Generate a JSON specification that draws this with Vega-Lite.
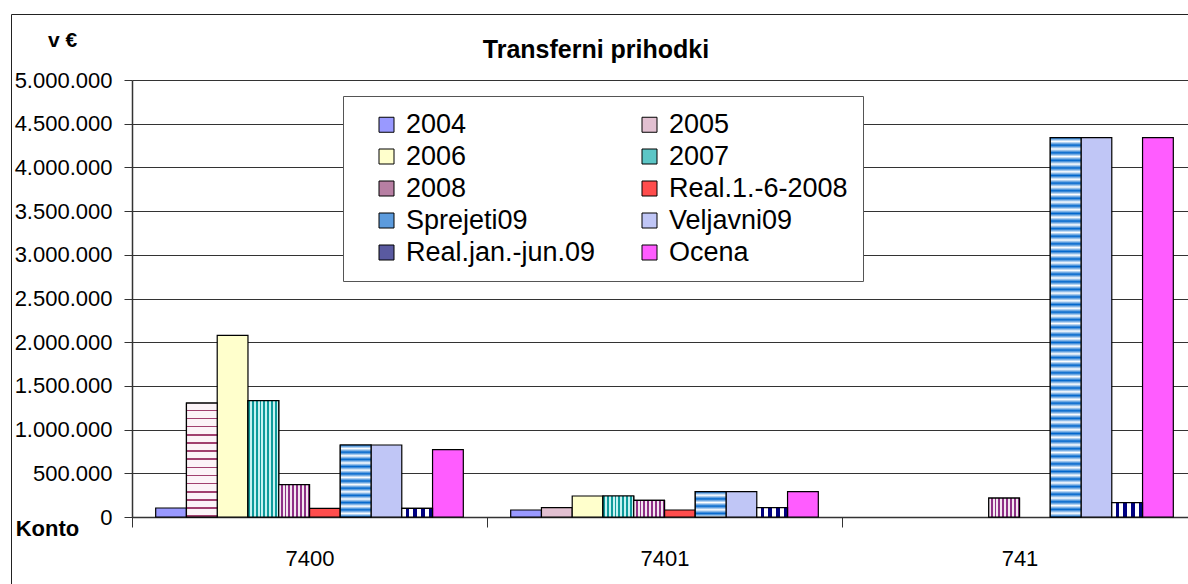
{
  "$schema": "https://vega.github.io/schema/vega-lite/v6.json",
  "width": 1056,
  "height": 437,
  "autosize": {"type": "none"},
  "padding": {"left": 132, "top": 80, "right": 0, "bottom": 67},
  "background": "white",
  "title": {
    "text": "Transferni prihodki",
    "anchor": "middle",
    "dx": -64,
    "dy": 49,
    "font": "Liberation Sans, Arial, sans-serif",
    "fontSize": 25,
    "fontWeight": "bold",
    "color": "black",
    "offset": 0
  },
  "data": {
    "values": [
      {"k": "7400", "s": "2004", "v": 103000},
      {"k": "7400", "s": "2005", "v": 1304000},
      {"k": "7400", "s": "2006", "v": 2079000},
      {"k": "7400", "s": "2007", "v": 1331000},
      {"k": "7400", "s": "2008", "v": 370000},
      {"k": "7400", "s": "Real.1.-6-2008", "v": 99000},
      {"k": "7400", "s": "Sprejeti09", "v": 824000},
      {"k": "7400", "s": "Veljavni09", "v": 824000},
      {"k": "7400", "s": "Real.jan.-jun.09", "v": 99000},
      {"k": "7400", "s": "Ocena", "v": 770000},
      {"k": "7401", "s": "2004", "v": 80000},
      {"k": "7401", "s": "2005", "v": 107000},
      {"k": "7401", "s": "2006", "v": 240000},
      {"k": "7401", "s": "2007", "v": 240000},
      {"k": "7401", "s": "2008", "v": 191000},
      {"k": "7401", "s": "Real.1.-6-2008", "v": 80000},
      {"k": "7401", "s": "Sprejeti09", "v": 290000},
      {"k": "7401", "s": "Veljavni09", "v": 290000},
      {"k": "7401", "s": "Real.jan.-jun.09", "v": 107000},
      {"k": "7401", "s": "Ocena", "v": 290000},
      {"k": "741", "s": "2008", "v": 217000},
      {"k": "741", "s": "Sprejeti09", "v": 4341000},
      {"k": "741", "s": "Veljavni09", "v": 4341000},
      {"k": "741", "s": "Real.jan.-jun.09", "v": 164000},
      {"k": "741", "s": "Ocena", "v": 4341000}
    ]
  },
  "layer": [
    {
      "encoding": {
        "x": {
          "field": "k",
          "type": "nominal",
          "scale": {"domain": ["7400", "7401", "741"], "range": [0, 1065], "paddingInner": 0, "paddingOuter": 0},
          "axis": {
            "orient": "bottom",
            "title": "Konto",
            "titleFont": "Liberation Sans, Arial, sans-serif",
            "titleFontSize": 22,
            "titleFontWeight": "bold",
            "titleColor": "black",
            "titleX": -85,
            "titleY": 11,
            "titleAlign": "center",
            "titleBaseline": "middle",
            "labelAngle": 0,
            "labelFont": "Liberation Sans, Arial, sans-serif",
            "labelFontSize": 22,
            "labelColor": "black",
            "labelPadding": 21,
            "tickBand": "extent",
            "ticks": true,
            "tickSize": 10,
            "tickColor": "#333333",
            "domainColor": "#333333",
            "domainWidth": 1.5,
            "grid": false
          }
        },
        "xOffset": {
          "field": "s",
          "type": "nominal",
          "scale": {
            "domain": ["2004", "2005", "2006", "2007", "2008", "Real.1.-6-2008", "Sprejeti09", "Veljavni09", "Real.jan.-jun.09", "Ocena"],
            "paddingInner": 0,
            "paddingOuter": 0.77
          }
        },
        "y": {
          "field": "v",
          "type": "quantitative",
          "scale": {"domain": [0, 5000000], "nice": false},
          "axis": {
            "orient": "left",
            "title": "v €",
            "titleFont": "Liberation Sans, Arial, sans-serif",
            "titleFontSize": 21,
            "titleFontWeight": "bold",
            "titleColor": "black",
            "titleAngle": 0,
            "titleX": -70,
            "titleY": -40,
            "titleAlign": "center",
            "titleBaseline": "middle",
            "values": [0, 500000, 1000000, 1500000, 2000000, 2500000, 3000000, 3500000, 4000000, 4500000, 5000000],
            "format": ",.0f",
            "labelFont": "Liberation Sans, Arial, sans-serif",
            "labelFontSize": 22,
            "labelColor": "black",
            "labelPadding": 12,
            "tickSize": 8,
            "tickColor": "#333333",
            "domainColor": "#333333",
            "domainWidth": 1.5,
            "grid": true,
            "gridColor": "#333333",
            "gridWidth": 1
          }
        }
      },
      "layer": [
        {
          "mark": {"type": "bar", "stroke": "black", "strokeWidth": 1.2},
          "encoding": {
            "color": {
              "field": "s",
              "type": "nominal",
              "scale": {
                "domain": ["2004", "2005", "2006", "2007", "2008", "Real.1.-6-2008", "Sprejeti09", "Veljavni09", "Real.jan.-jun.09", "Ocena"],
                "range": ["#9999FF", "#E2C0D1", "#FFFFCC", "#5CC6C6", "#B77FA3", "#FF4D4D", "#5C9BDD", "#C0C6F6", "#5A5AA0", "#FF5CFF"]
              },
              "legend": {
                "title": null,
                "orient": "none",
                "direction": "horizontal",
                "legendX": 211,
                "legendY": 16,
                "columns": 2,
                "fillColor": "white",
                "strokeColor": "#555555",
                "padding": 15,
                "symbolType": "square",
                "symbolSize": 225,
                "symbolStrokeColor": "black",
                "symbolStrokeWidth": 1,
                "symbolOpacity": 1,
                "symbolOffset": 15,
                "labelOffset": 6,
                "labelFont": "Liberation Sans, Arial, sans-serif",
                "labelFontSize": 27,
                "labelColor": "black",
                "labelLimit": 400,
                "rowPadding": 4,
                "columnPadding": 25
              }
            }
          }
        },
        {
          "transform": [{"filter": {"and": [{"field": "s", "equal": "2005"}, {"field": "k", "equal": "7400"}]}}],
          "mark": {
            "type": "bar", "stroke": "black", "strokeWidth": 1.2,
            "fill": {"gradient": "linear", "x1": 0, "y1": 0, "x2": 0, "y2": 1, "stops": [
              {"offset": 0, "color": "#FBF3F7"}, {"offset": 0.0571, "color": "#FBF3F7"}, {"offset": 0.0571, "color": "#A0406E"}, {"offset": 0.0714, "color": "#A0406E"},
              {"offset": 0.0714, "color": "#FBF3F7"}, {"offset": 0.1286, "color": "#FBF3F7"}, {"offset": 0.1286, "color": "#A0406E"}, {"offset": 0.1429, "color": "#A0406E"},
              {"offset": 0.1429, "color": "#FBF3F7"}, {"offset": 0.2, "color": "#FBF3F7"}, {"offset": 0.2, "color": "#A0406E"}, {"offset": 0.2143, "color": "#A0406E"},
              {"offset": 0.2143, "color": "#FBF3F7"}, {"offset": 0.2714, "color": "#FBF3F7"}, {"offset": 0.2714, "color": "#A0406E"}, {"offset": 0.2857, "color": "#A0406E"},
              {"offset": 0.2857, "color": "#FBF3F7"}, {"offset": 0.3429, "color": "#FBF3F7"}, {"offset": 0.3429, "color": "#A0406E"}, {"offset": 0.3571, "color": "#A0406E"},
              {"offset": 0.3571, "color": "#FBF3F7"}, {"offset": 0.4143, "color": "#FBF3F7"}, {"offset": 0.4143, "color": "#A0406E"}, {"offset": 0.4286, "color": "#A0406E"},
              {"offset": 0.4286, "color": "#FBF3F7"}, {"offset": 0.4857, "color": "#FBF3F7"}, {"offset": 0.4857, "color": "#A0406E"}, {"offset": 0.5, "color": "#A0406E"},
              {"offset": 0.5, "color": "#FBF3F7"}, {"offset": 0.5571, "color": "#FBF3F7"}, {"offset": 0.5571, "color": "#A0406E"}, {"offset": 0.5714, "color": "#A0406E"},
              {"offset": 0.5714, "color": "#FBF3F7"}, {"offset": 0.6286, "color": "#FBF3F7"}, {"offset": 0.6286, "color": "#A0406E"}, {"offset": 0.6429, "color": "#A0406E"},
              {"offset": 0.6429, "color": "#FBF3F7"}, {"offset": 0.7, "color": "#FBF3F7"}, {"offset": 0.7, "color": "#A0406E"}, {"offset": 0.7143, "color": "#A0406E"},
              {"offset": 0.7143, "color": "#FBF3F7"}, {"offset": 0.7714, "color": "#FBF3F7"}, {"offset": 0.7714, "color": "#A0406E"}, {"offset": 0.7857, "color": "#A0406E"},
              {"offset": 0.7857, "color": "#FBF3F7"}, {"offset": 0.8429, "color": "#FBF3F7"}, {"offset": 0.8429, "color": "#A0406E"}, {"offset": 0.8571, "color": "#A0406E"},
              {"offset": 0.8571, "color": "#FBF3F7"}, {"offset": 0.9143, "color": "#FBF3F7"}, {"offset": 0.9143, "color": "#A0406E"}, {"offset": 0.9286, "color": "#A0406E"},
              {"offset": 0.9286, "color": "#FBF3F7"}, {"offset": 0.9857, "color": "#FBF3F7"}, {"offset": 0.9857, "color": "#A0406E"}, {"offset": 1, "color": "#A0406E"}
            ]}
          }
        },
        {
          "transform": [{"filter": {"field": "s", "equal": "2007"}}],
          "mark": {
            "type": "bar", "stroke": "black", "strokeWidth": 1.2,
            "fill": {"gradient": "linear", "x1": 0, "y1": 0, "x2": 1, "y2": 0, "stops": [
              {"offset": 0, "color": "#0E9A9A"}, {"offset": 0.0625, "color": "#0E9A9A"},
              {"offset": 0.0625, "color": "#C6F2F2"}, {"offset": 0.125, "color": "#C6F2F2"},
              {"offset": 0.125, "color": "#0E9A9A"}, {"offset": 0.1875, "color": "#0E9A9A"},
              {"offset": 0.1875, "color": "#C6F2F2"}, {"offset": 0.25, "color": "#C6F2F2"},
              {"offset": 0.25, "color": "#0E9A9A"}, {"offset": 0.3125, "color": "#0E9A9A"},
              {"offset": 0.3125, "color": "#C6F2F2"}, {"offset": 0.375, "color": "#C6F2F2"},
              {"offset": 0.375, "color": "#0E9A9A"}, {"offset": 0.4375, "color": "#0E9A9A"},
              {"offset": 0.4375, "color": "#C6F2F2"}, {"offset": 0.5, "color": "#C6F2F2"},
              {"offset": 0.5, "color": "#0E9A9A"}, {"offset": 0.5625, "color": "#0E9A9A"},
              {"offset": 0.5625, "color": "#C6F2F2"}, {"offset": 0.625, "color": "#C6F2F2"},
              {"offset": 0.625, "color": "#0E9A9A"}, {"offset": 0.6875, "color": "#0E9A9A"},
              {"offset": 0.6875, "color": "#C6F2F2"}, {"offset": 0.75, "color": "#C6F2F2"},
              {"offset": 0.75, "color": "#0E9A9A"}, {"offset": 0.8125, "color": "#0E9A9A"},
              {"offset": 0.8125, "color": "#C6F2F2"}, {"offset": 0.875, "color": "#C6F2F2"},
              {"offset": 0.875, "color": "#0E9A9A"}, {"offset": 0.9375, "color": "#0E9A9A"},
              {"offset": 0.9375, "color": "#C6F2F2"}, {"offset": 1, "color": "#C6F2F2"}
            ]}
          }
        },
        {
          "transform": [{"filter": {"field": "s", "equal": "2008"}}],
          "mark": {
            "type": "bar", "stroke": "black", "strokeWidth": 1.2,
            "fill": {"gradient": "linear", "x1": 0, "y1": 0, "x2": 1, "y2": 0, "stops": [
              {"offset": 0, "color": "#F3E6F0"}, {"offset": 0.0625, "color": "#F3E6F0"},
              {"offset": 0.0625, "color": "#8E2F86"}, {"offset": 0.125, "color": "#8E2F86"},
              {"offset": 0.125, "color": "#F3E6F0"}, {"offset": 0.1875, "color": "#F3E6F0"},
              {"offset": 0.1875, "color": "#8E2F86"}, {"offset": 0.25, "color": "#8E2F86"},
              {"offset": 0.25, "color": "#F3E6F0"}, {"offset": 0.3125, "color": "#F3E6F0"},
              {"offset": 0.3125, "color": "#8E2F86"}, {"offset": 0.375, "color": "#8E2F86"},
              {"offset": 0.375, "color": "#F3E6F0"}, {"offset": 0.4375, "color": "#F3E6F0"},
              {"offset": 0.4375, "color": "#8E2F86"}, {"offset": 0.5, "color": "#8E2F86"},
              {"offset": 0.5, "color": "#F3E6F0"}, {"offset": 0.5625, "color": "#F3E6F0"},
              {"offset": 0.5625, "color": "#8E2F86"}, {"offset": 0.625, "color": "#8E2F86"},
              {"offset": 0.625, "color": "#F3E6F0"}, {"offset": 0.6875, "color": "#F3E6F0"},
              {"offset": 0.6875, "color": "#8E2F86"}, {"offset": 0.75, "color": "#8E2F86"},
              {"offset": 0.75, "color": "#F3E6F0"}, {"offset": 0.8125, "color": "#F3E6F0"},
              {"offset": 0.8125, "color": "#8E2F86"}, {"offset": 0.875, "color": "#8E2F86"},
              {"offset": 0.875, "color": "#F3E6F0"}, {"offset": 0.9375, "color": "#F3E6F0"},
              {"offset": 0.9375, "color": "#8E2F86"}, {"offset": 1, "color": "#8E2F86"}
            ]}
          }
        },
        {
          "transform": [{"filter": {"field": "s", "equal": "Real.jan.-jun.09"}}],
          "mark": {
            "type": "bar", "stroke": "black", "strokeWidth": 1.2,
            "fill": {"gradient": "linear", "x1": 0, "y1": 0, "x2": 1, "y2": 0, "stops": [
              {"offset": 0, "color": "#FFFFFF"}, {"offset": 0.125, "color": "#FFFFFF"},
              {"offset": 0.125, "color": "#000080"}, {"offset": 0.25, "color": "#000080"},
              {"offset": 0.25, "color": "#FFFFFF"}, {"offset": 0.375, "color": "#FFFFFF"},
              {"offset": 0.375, "color": "#000080"}, {"offset": 0.5, "color": "#000080"},
              {"offset": 0.5, "color": "#FFFFFF"}, {"offset": 0.625, "color": "#FFFFFF"},
              {"offset": 0.625, "color": "#000080"}, {"offset": 0.75, "color": "#000080"},
              {"offset": 0.75, "color": "#FFFFFF"}, {"offset": 0.875, "color": "#FFFFFF"},
              {"offset": 0.875, "color": "#000080"}, {"offset": 1, "color": "#000080"}
            ]}
          }
        },
        {
          "transform": [{"filter": {"and": [{"field": "s", "equal": "Sprejeti09"}, {"field": "k", "equal": "7400"}]}}],
          "mark": {
            "type": "bar", "stroke": "black", "strokeWidth": 1.2,
            "fill": {"gradient": "linear", "x1": 0, "y1": 0, "x2": 0, "y2": 1, "stops": [
              {"offset": 0, "color": "#0066CC"}, {"offset": 0.05, "color": "#FFFFFF"},
              {"offset": 0.1, "color": "#0066CC"}, {"offset": 0.15, "color": "#FFFFFF"},
              {"offset": 0.2, "color": "#0066CC"}, {"offset": 0.25, "color": "#FFFFFF"},
              {"offset": 0.3, "color": "#0066CC"}, {"offset": 0.35, "color": "#FFFFFF"},
              {"offset": 0.4, "color": "#0066CC"}, {"offset": 0.45, "color": "#FFFFFF"},
              {"offset": 0.5, "color": "#0066CC"}, {"offset": 0.55, "color": "#FFFFFF"},
              {"offset": 0.6, "color": "#0066CC"}, {"offset": 0.65, "color": "#FFFFFF"},
              {"offset": 0.7, "color": "#0066CC"}, {"offset": 0.75, "color": "#FFFFFF"},
              {"offset": 0.8, "color": "#0066CC"}, {"offset": 0.85, "color": "#FFFFFF"},
              {"offset": 0.9, "color": "#0066CC"}, {"offset": 0.95, "color": "#FFFFFF"},
              {"offset": 1, "color": "#0066CC"}
            ]}
          }
        },
        {
          "transform": [{"filter": {"and": [{"field": "s", "equal": "Sprejeti09"}, {"field": "k", "equal": "7401"}]}}],
          "mark": {
            "type": "bar", "stroke": "black", "strokeWidth": 1.2,
            "fill": {"gradient": "linear", "x1": 0, "y1": 0, "x2": 0, "y2": 1, "stops": [
              {"offset": 0, "color": "#0066CC"}, {"offset": 0.1429, "color": "#FFFFFF"},
              {"offset": 0.2857, "color": "#0066CC"}, {"offset": 0.4286, "color": "#FFFFFF"},
              {"offset": 0.5714, "color": "#0066CC"}, {"offset": 0.7143, "color": "#FFFFFF"},
              {"offset": 0.8571, "color": "#0066CC"}, {"offset": 1, "color": "#FFFFFF"}
            ]}
          }
        },
        {
          "transform": [{"filter": {"and": [{"field": "s", "equal": "Sprejeti09"}, {"field": "k", "equal": "741"}]}}],
          "mark": {
            "type": "bar", "stroke": "black", "strokeWidth": 1.2,
            "fill": {"gradient": "linear", "x1": 0, "y1": 0, "x2": 0, "y2": 1, "stops": [
              {"offset": 0, "color": "#0066CC"}, {"offset": 0.01, "color": "#FFFFFF"}, {"offset": 0.02, "color": "#0066CC"}, {"offset": 0.03, "color": "#FFFFFF"},
              {"offset": 0.04, "color": "#0066CC"}, {"offset": 0.05, "color": "#FFFFFF"}, {"offset": 0.06, "color": "#0066CC"}, {"offset": 0.07, "color": "#FFFFFF"},
              {"offset": 0.08, "color": "#0066CC"}, {"offset": 0.09, "color": "#FFFFFF"}, {"offset": 0.1, "color": "#0066CC"}, {"offset": 0.11, "color": "#FFFFFF"},
              {"offset": 0.12, "color": "#0066CC"}, {"offset": 0.13, "color": "#FFFFFF"}, {"offset": 0.14, "color": "#0066CC"}, {"offset": 0.15, "color": "#FFFFFF"},
              {"offset": 0.16, "color": "#0066CC"}, {"offset": 0.17, "color": "#FFFFFF"}, {"offset": 0.18, "color": "#0066CC"}, {"offset": 0.19, "color": "#FFFFFF"},
              {"offset": 0.2, "color": "#0066CC"}, {"offset": 0.21, "color": "#FFFFFF"}, {"offset": 0.22, "color": "#0066CC"}, {"offset": 0.23, "color": "#FFFFFF"},
              {"offset": 0.24, "color": "#0066CC"}, {"offset": 0.25, "color": "#FFFFFF"}, {"offset": 0.26, "color": "#0066CC"}, {"offset": 0.27, "color": "#FFFFFF"},
              {"offset": 0.28, "color": "#0066CC"}, {"offset": 0.29, "color": "#FFFFFF"}, {"offset": 0.3, "color": "#0066CC"}, {"offset": 0.31, "color": "#FFFFFF"},
              {"offset": 0.32, "color": "#0066CC"}, {"offset": 0.33, "color": "#FFFFFF"}, {"offset": 0.34, "color": "#0066CC"}, {"offset": 0.35, "color": "#FFFFFF"},
              {"offset": 0.36, "color": "#0066CC"}, {"offset": 0.37, "color": "#FFFFFF"}, {"offset": 0.38, "color": "#0066CC"}, {"offset": 0.39, "color": "#FFFFFF"},
              {"offset": 0.4, "color": "#0066CC"}, {"offset": 0.41, "color": "#FFFFFF"}, {"offset": 0.42, "color": "#0066CC"}, {"offset": 0.43, "color": "#FFFFFF"},
              {"offset": 0.44, "color": "#0066CC"}, {"offset": 0.45, "color": "#FFFFFF"}, {"offset": 0.46, "color": "#0066CC"}, {"offset": 0.47, "color": "#FFFFFF"},
              {"offset": 0.48, "color": "#0066CC"}, {"offset": 0.49, "color": "#FFFFFF"}, {"offset": 0.5, "color": "#0066CC"}, {"offset": 0.51, "color": "#FFFFFF"},
              {"offset": 0.52, "color": "#0066CC"}, {"offset": 0.53, "color": "#FFFFFF"}, {"offset": 0.54, "color": "#0066CC"}, {"offset": 0.55, "color": "#FFFFFF"},
              {"offset": 0.56, "color": "#0066CC"}, {"offset": 0.57, "color": "#FFFFFF"}, {"offset": 0.58, "color": "#0066CC"}, {"offset": 0.59, "color": "#FFFFFF"},
              {"offset": 0.6, "color": "#0066CC"}, {"offset": 0.61, "color": "#FFFFFF"}, {"offset": 0.62, "color": "#0066CC"}, {"offset": 0.63, "color": "#FFFFFF"},
              {"offset": 0.64, "color": "#0066CC"}, {"offset": 0.65, "color": "#FFFFFF"}, {"offset": 0.66, "color": "#0066CC"}, {"offset": 0.67, "color": "#FFFFFF"},
              {"offset": 0.68, "color": "#0066CC"}, {"offset": 0.69, "color": "#FFFFFF"}, {"offset": 0.7, "color": "#0066CC"}, {"offset": 0.71, "color": "#FFFFFF"},
              {"offset": 0.72, "color": "#0066CC"}, {"offset": 0.73, "color": "#FFFFFF"}, {"offset": 0.74, "color": "#0066CC"}, {"offset": 0.75, "color": "#FFFFFF"},
              {"offset": 0.76, "color": "#0066CC"}, {"offset": 0.77, "color": "#FFFFFF"}, {"offset": 0.78, "color": "#0066CC"}, {"offset": 0.79, "color": "#FFFFFF"},
              {"offset": 0.8, "color": "#0066CC"}, {"offset": 0.81, "color": "#FFFFFF"}, {"offset": 0.82, "color": "#0066CC"}, {"offset": 0.83, "color": "#FFFFFF"},
              {"offset": 0.84, "color": "#0066CC"}, {"offset": 0.85, "color": "#FFFFFF"}, {"offset": 0.86, "color": "#0066CC"}, {"offset": 0.87, "color": "#FFFFFF"},
              {"offset": 0.88, "color": "#0066CC"}, {"offset": 0.89, "color": "#FFFFFF"}, {"offset": 0.9, "color": "#0066CC"}, {"offset": 0.91, "color": "#FFFFFF"},
              {"offset": 0.92, "color": "#0066CC"}, {"offset": 0.93, "color": "#FFFFFF"}, {"offset": 0.94, "color": "#0066CC"}, {"offset": 0.95, "color": "#FFFFFF"},
              {"offset": 0.96, "color": "#0066CC"}, {"offset": 0.97, "color": "#FFFFFF"}, {"offset": 0.98, "color": "#0066CC"}, {"offset": 0.99, "color": "#FFFFFF"},
              {"offset": 1, "color": "#0066CC"}
            ]}
          }
        }
      ]
    },
    {
      "mark": {"type": "point", "opacity": 0},
      "encoding": {
        "x": {
          "field": "v",
          "type": "quantitative",
          "scale": {"range": [-121, 1100]},
          "axis": {"orient": "top", "offset": 66, "labels": false, "ticks": false, "grid": false, "title": null, "domain": true, "domainColor": "#222222", "domainWidth": 1}
        },
        "y": {
          "field": "v",
          "type": "quantitative",
          "scale": {"range": [504, -66]},
          "axis": {"orient": "left", "offset": 121, "labels": false, "ticks": false, "grid": false, "title": null, "domain": true, "domainColor": "#222222", "domainWidth": 1}
        }
      }
    }
  ],
  "resolve": {
    "scale": {"x": "independent", "y": "independent"},
    "axis": {"x": "independent", "y": "independent"}
  },
  "config": {
    "view": {"stroke": null},
    "locale": {
      "number": {"decimal": ",", "thousands": ".", "grouping": [3], "currency": ["", " €"]}
    }
  }
}
